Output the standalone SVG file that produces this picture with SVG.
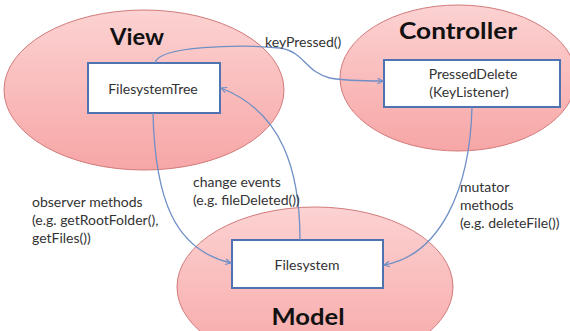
<svg xmlns="http://www.w3.org/2000/svg" width="570" height="331" viewBox="0 0 570 331">
  <defs>
    <linearGradient id="pink" x1="0" y1="0" x2="0" y2="1">
      <stop offset="0" stop-color="#fcd2d2"/>
      <stop offset="1" stop-color="#f7a6a6"/>
    </linearGradient>
    <marker id="arrow" viewBox="0 0 10 10" refX="9" refY="5" markerWidth="7" markerHeight="7" orient="auto" markerUnits="userSpaceOnUse">
      <path d="M1,1 L9,5 L1,9" fill="none" stroke="#6f8fc6" stroke-width="1.6"/>
    </marker>
    <style>
      .zone { fill: url(#pink); stroke: #d27a7a; stroke-width: 1; }
      .box { fill: #ffffff; stroke: #4f72b0; stroke-width: 2; }
      .title { font-family: "Lato", "Open Sans", sans-serif; font-weight: bold; font-size: 23px; fill: #111; text-anchor: middle; }
      .label { font-family: "Lato", "Open Sans", sans-serif; font-size: 14px; fill: #333; }
      .center { text-anchor: middle; }
      .edge { fill: none; stroke: #6f8fc6; stroke-width: 1.3; marker-end: url(#arrow); }
    </style>
  </defs>
  <rect width="570" height="331" fill="#ffffff"/>

  <!-- layer regions -->
  <g id="view">
    <ellipse class="zone" cx="144" cy="90" rx="140" ry="80"/>
    <text class="title" x="137" y="45" textLength="54" lengthAdjust="spacingAndGlyphs">View</text>
  </g>
  <g id="controller">
    <ellipse class="zone" cx="458" cy="78" rx="118" ry="73"/>
    <text class="title" x="458" y="39" textLength="118" lengthAdjust="spacingAndGlyphs">Controller</text>
  </g>
  <g id="model">
    <ellipse class="zone" cx="315" cy="287" rx="138" ry="80"/>
    <text class="title" x="308" y="325" textLength="73" lengthAdjust="spacingAndGlyphs">Model</text>
  </g>

  <!-- classes -->
  <g id="filesystem-tree">
    <rect class="box" x="88" y="63" width="132" height="50"/>
    <text class="label center" x="153" y="94">FilesystemTree</text>
  </g>
  <g id="pressed-delete">
    <rect class="box" x="384" y="60" width="176" height="47"/>
    <text class="label center" x="473" y="79">PressedDelete</text>
    <text class="label center" x="469" y="97">(KeyListener)</text>
  </g>
  <g id="filesystem">
    <rect class="box" x="232" y="240" width="151" height="48"/>
    <text class="label center" x="307" y="270">Filesystem</text>
  </g>

  <!-- connectors -->
  <g id="connectors">
    <path class="edge" d="M155,63 C158,46 240,44 280,48 C305,52 305,72 330,78 C345,81 370,81 383,81"/>
    <path class="edge" d="M153,113 C155,200 175,250 231,263"/>
    <path class="edge" d="M300,240 C300,170 282,112 221,88"/>
    <path class="edge" d="M472,107 C470,190 440,255 384,265"/>
  </g>

  <!-- connector labels -->
  <g id="edge-labels">
    <text class="label" x="265" y="47">keyPressed()</text>
    <text class="label" x="32" y="207">observer methods</text>
    <text class="label" x="32" y="225">(e.g. getRootFolder(),</text>
    <text class="label" x="32" y="243">getFiles())</text>
    <text class="label" x="193" y="187">change events</text>
    <text class="label" x="193" y="205">(e.g. fileDeleted())</text>
    <text class="label" x="460" y="192">mutator</text>
    <text class="label" x="460" y="210">methods</text>
    <text class="label" x="460" y="228">(e.g. deleteFile())</text>
  </g>
</svg>
